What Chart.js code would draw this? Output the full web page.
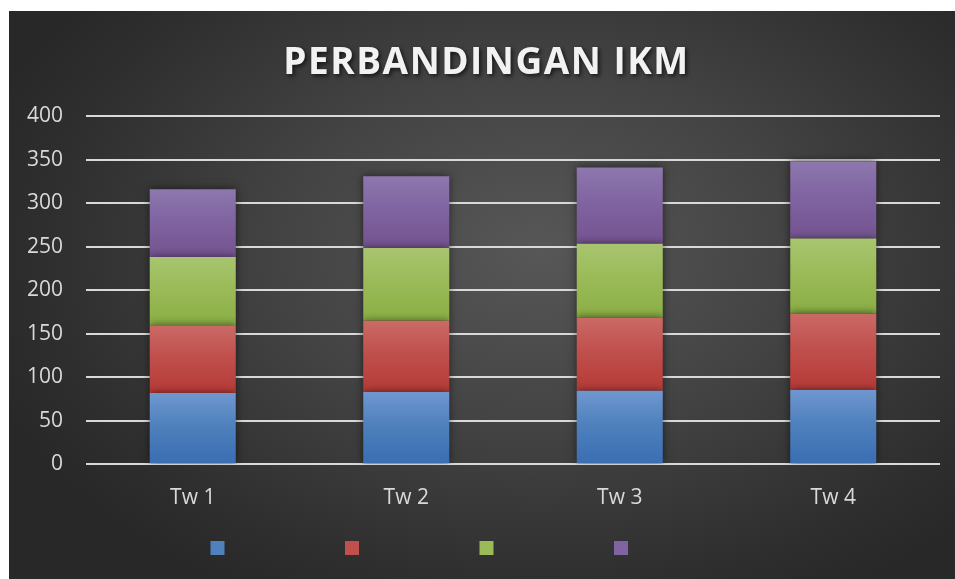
<!DOCTYPE html>
<html>
<head>
<meta charset="utf-8">
<script src="https://cdn.jsdelivr.net/npm/chart.js@4.4.1/dist/chart.umd.min.js"></script>
<style>
  html, body { margin: 0; padding: 0; background: #ffffff; }
  #wrap {
    position: absolute; left: 9px; top: 11px; width: 946px; height: 568px;
    background: radial-gradient(ellipse 62% 70% at 56% 42%, #575757 0%, #434343 45%, #2e2e2e 85%, #282828 100%);
  }
</style>
</head>
<body>
<div id="wrap"><canvas id="c"></canvas></div>
<script>
// ---- data ----
const categories = ['Tw 1', 'Tw 2', 'Tw 3', 'Tw 4'];
const blueValues   = [82, 83, 84.5, 85.3];
const redValues    = [78, 82, 84.3, 88.1];
const greenValues  = [78.4, 83.8, 84.9, 86.1];
const purpleValues = [77.7, 82.3, 87.6, 88.8];
const yTicks = [0, 50, 100, 150, 200, 250, 300, 350, 400];
const titleText = 'PERBANDINGAN IKM';

const seriesValues = [blueValues, redValues, greenValues, purpleValues];
const seriesColors = [
  { mid: '#4f81bd', top: '#6f97cf', bottom: '#3a6db2' },
  { mid: '#c0504d', top: '#cb6a66', bottom: '#b53a36' },
  { mid: '#9bbb59', top: '#a8c56f', bottom: '#8aae44' },
  { mid: '#8064a2', top: '#8d78ad', bottom: '#74528f' }
];

function gradientFor(si) {
  return function (ctx) {
    const chart = ctx.chart;
    const col = seriesColors[si];
    if (ctx.type !== 'data' || !chart.chartArea || !chart.scales || !chart.scales.y) return col.mid;
    const i = ctx.dataIndex;
    let start = 0;
    for (let k = 0; k < si; k++) start += seriesValues[k][i];
    const end = start + seriesValues[si][i];
    const y0 = chart.scales.y.getPixelForValue(end);
    const y1 = chart.scales.y.getPixelForValue(start);
    if (!isFinite(y0) || !isFinite(y1) || y0 === y1) return col.mid;
    const g = chart.ctx.createLinearGradient(0, y0, 0, y1);
    g.addColorStop(0, col.top);
    g.addColorStop(0.45, col.mid);
    g.addColorStop(1, col.bottom);
    return g;
  };
}

const datasets = seriesValues.map((vals, si) => ({
  label: '',
  data: vals,
  backgroundColor: gradientFor(si),
  borderWidth: 0,
  barPercentage: 0.403,
  categoryPercentage: 1.0
}));

const fx = {
  id: 'fx',
  afterInit(chart) {
    const tb = chart.titleBlock;
    if (tb) {
      const orig = tb.draw.bind(tb);
      tb.draw = function () {
        const c = chart.ctx;
        c.save();
        c.translate(12, 0);
        try { c.letterSpacing = '1.5px'; } catch (e) {}
        c.shadowColor = 'rgba(0,0,0,0.65)';
        c.shadowBlur = 4;
        c.shadowOffsetX = 2;
        c.shadowOffsetY = 2;
        orig();
        c.restore();
      };
    }
  },
  beforeDatasetsDraw(chart) {
    const c = chart.ctx;
    c.save();
    c.shadowColor = 'rgba(0,0,0,0.55)';
    c.shadowBlur = 8;
    c.shadowOffsetX = 0;
    c.shadowOffsetY = 0;
  },
  afterDatasetsDraw(chart) {
    chart.ctx.restore();
  }
};

new Chart(document.getElementById('c'), {
  type: 'bar',
  data: { labels: categories, datasets },
  plugins: [fx],
  options: {
    responsive: true,
    maintainAspectRatio: false,
    animation: false,
    layout: { padding: { left: 0, right: 15, top: 0, bottom: 14 } },
    plugins: {
      tooltip: { enabled: false },
      title: {
        display: true,
        text: titleText,
        color: '#f2f2f2',
        font: { family: 'Open Sans', size: 37, weight: 'bold' },
        padding: { top: 30, bottom: 31 }
      },
      legend: {
        display: true,
        position: 'bottom',
        labels: {
          boxWidth: 14,
          boxHeight: 14,
          padding: 10,
          color: 'rgba(0,0,0,0)',
          font: { family: 'Open Sans', size: 13 },
          generateLabels(chart) {
            return chart.data.datasets.map((ds, i) => ({
              text: '\u2003\u2003\u2003\u2003\u2003\u2003\u2003\u2003',
              fillStyle: seriesColors[i].mid,
              strokeStyle: seriesColors[i].mid,
              lineWidth: 0,
              hidden: false,
              datasetIndex: i
            }));
          }
        }
      }
    },
    scales: {
      x: {
        stacked: true,
        grid: { display: false, drawTicks: false },
        border: { display: false },
        ticks: { color: '#d9d9d9', font: { family: 'Open Sans', size: 21 }, padding: 21 },
        afterFit(scale) { scale.height = 66.7; }
      },
      y: {
        stacked: true,
        min: 0,
        max: 400,
        afterBuildTicks(scale) { scale.ticks = yTicks.map(v => ({ value: v })); },
        grid: { color: '#d9d9d9', lineWidth: 2, drawTicks: false },
        border: { display: false },
        ticks: { color: '#d9d9d9', font: { family: 'Open Sans', size: 21 }, padding: 23 },
        afterFit(scale) { scale.width = 77; }
      }
    }
  }
});
</script>
</body>
</html>
